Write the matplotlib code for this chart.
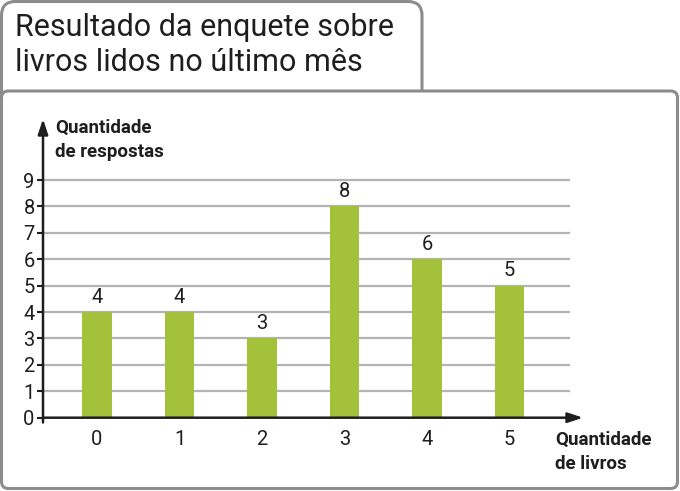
import matplotlib
matplotlib.use('Agg')
import matplotlib.pyplot as plt
from matplotlib.patches import FancyBboxPatch
import numpy as np

# Data
livros = [0, 1, 2, 3, 4, 5]
respostas = [4, 4, 3, 8, 6, 5]
y_ticks = list(range(0, 10))

title_lines = ['Resultado da enquete sobre', 'livros lidos no último mês']
ylabel_lines = ['Quantidade', 'de respostas']
xlabel_lines = ['Quantidade', 'de livros']

bar_color = '#a3c13a'
grid_color = '#b3b3b3'
frame_color = '#8c8c8c'
ink = '#1e1e1e'

plt.rcParams['font.family'] = ['Roboto', 'DejaVu Sans']

W, H = 680, 491
fig = plt.figure(figsize=(W / 100, H / 100), dpi=100)

# Background layer in pixel coordinates for the framed boxes
bg = fig.add_axes([0, 0, 1, 1])
bg.set_xlim(0, W)
bg.set_ylim(H, 0)
bg.axis('off')

tab = FancyBboxPatch((1.5, 1.5), 420.5, 140, boxstyle='round,pad=0,rounding_size=14',
                     facecolor='white', edgecolor=frame_color, linewidth=2.2)
bg.add_patch(tab)
main = FancyBboxPatch((1.5, 91), 676, 397.5, boxstyle='round,pad=0,rounding_size=7',
                      facecolor='white', edgecolor=frame_color, linewidth=2.2)
bg.add_patch(main)

for line, base in zip(title_lines, [36, 71]):
    bg.text(15, base, line, fontsize=22, color=ink, ha='left', va='baseline')
for line, base in zip(ylabel_lines, [133, 157]):
    bg.text(55, base, line, fontsize=13.5, fontweight='bold', color=ink,
            ha='left', va='baseline')
for line, base in zip(xlabel_lines, [445, 469]):
    bg.text(555, base, line, fontsize=13.5, fontweight='bold', color=ink,
            ha='left', va='baseline')

# Chart axes
x0_px, x1_px = 43, 583
y0_px, y1_px = 417.7, 119
ax = fig.add_axes([x0_px / W, 1 - y0_px / H, (x1_px - x0_px) / W, (y0_px - y1_px) / H])
ax.patch.set_alpha(0)

unit_x = 82.5
unit_y = (417.7 - 180) / 9
xmin = -(97 - x0_px) / unit_x
xmax = (x1_px - 97) / unit_x
ymax = (y0_px - y1_px) / unit_y
ax.set_xlim(xmin, xmax)
ax.set_ylim(0, ymax)

grid_end = (570 - 97) / unit_x
ax.hlines(y_ticks[1:], xmin, grid_end, colors=grid_color, linewidth=1.6, zorder=1)

ax.bar(livros, respostas, width=0.36, color=bar_color, zorder=2)
for x, v in zip(livros, respostas):
    ax.annotate(str(v), (x, v), xytext=(0, 4), textcoords='offset points',
                ha='center', va='bottom', fontsize=14.5, color=ink)

for s in ax.spines.values():
    s.set_visible(False)

# axes with arrows
ax.annotate('', xy=(1, 0), xytext=(0, 0), xycoords='axes fraction',
            arrowprops=dict(arrowstyle='-|>,head_length=0.9,head_width=0.3',
                            color=ink, lw=1.8, shrinkA=0, shrinkB=0), zorder=3)
ax.annotate('', xy=(0, 1), xytext=(0, -0.016), xycoords='axes fraction',
            arrowprops=dict(arrowstyle='-|>,head_length=0.9,head_width=0.3',
                            color=ink, lw=1.8, shrinkA=0, shrinkB=0), zorder=3)

ax.set_yticks(y_ticks)
ax.set_yticklabels([str(t) for t in y_ticks])
ax.set_xticks(livros)
ax.set_xticklabels([str(x) for x in livros])
ax.tick_params(axis='y', direction='out', length=4, width=1.5, color=ink,
               pad=2, labelsize=14.5, labelcolor=ink)
ax.tick_params(axis='x', length=0, pad=9, labelsize=14.5, labelcolor=ink)

fig.savefig('out.png', dpi=100)
